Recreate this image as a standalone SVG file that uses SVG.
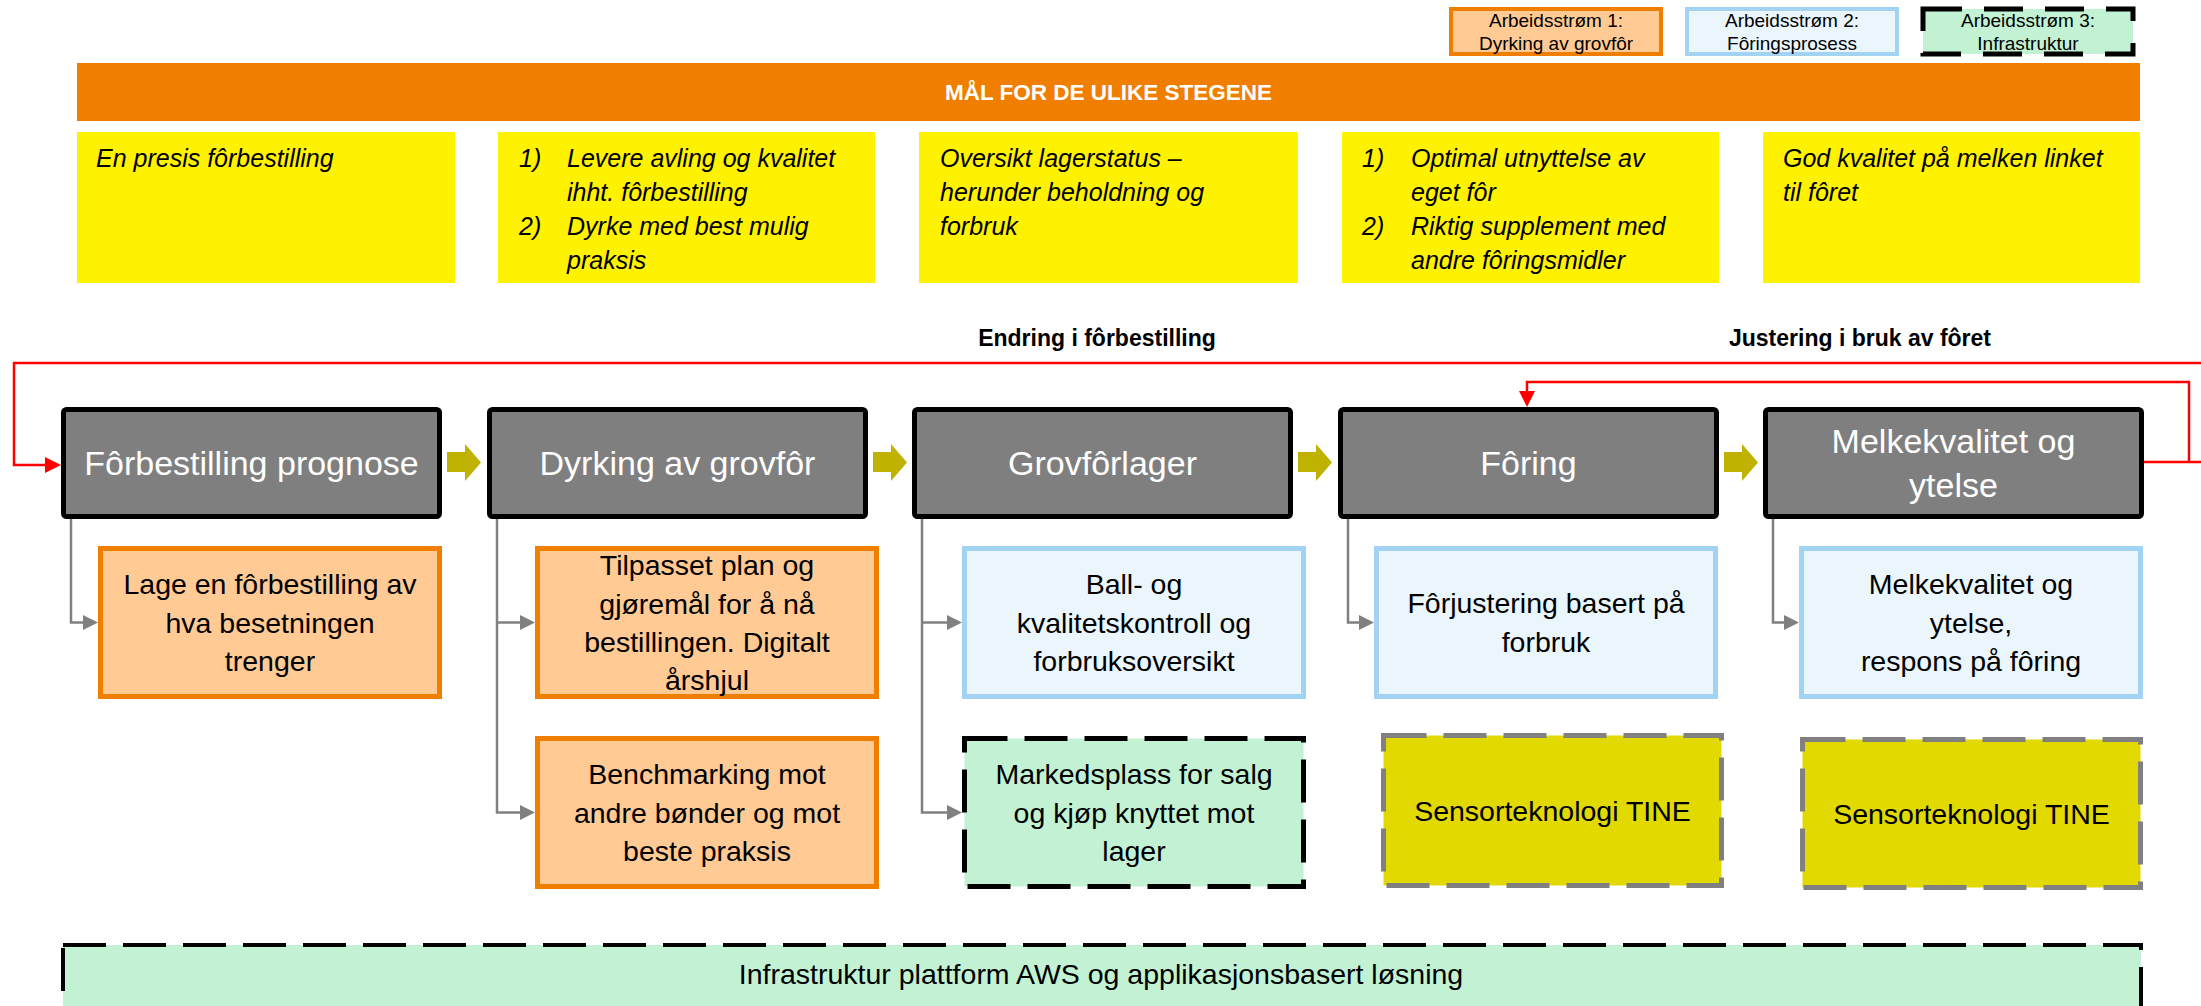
<svg xmlns="http://www.w3.org/2000/svg" width="2201" height="1006" viewBox="0 0 2201 1006" font-family="'Liberation Sans', Arial, sans-serif">
<style>
.g{fill:#7F7F7F;stroke:#000;stroke-width:5}
.gt{fill:#fff;font-size:34px;text-anchor:middle}
.o{fill:#FFCA94;stroke:#F07F00;stroke-width:5}
.b{fill:#EAF5FC;stroke:#A3D3F2;stroke-width:5}
.gr{fill:#C2F2D3;stroke:#000;stroke-width:5;stroke-dasharray:43 17}
.ol{fill:#E2D900;stroke:#808080;stroke-width:5;stroke-dasharray:43 17}
.y{fill:#FFF200}
.st{font-size:28.5px;fill:#000;text-anchor:middle}
.yt{font-size:25px;font-style:italic;fill:#000}
.lg{font-size:19px;fill:#000;text-anchor:middle}
.lbl{font-size:23px;font-weight:bold;fill:#000;text-anchor:middle}
.conn{fill:none;stroke:#808080;stroke-width:2.5}
.red{fill:none;stroke:#FF0000;stroke-width:2.5}
.blk{fill:#BFB200}
</style>
<defs>
<marker id="ag" markerUnits="userSpaceOnUse" markerWidth="15" markerHeight="15" refX="5" refY="7.5" orient="auto">
<path d="M0,0 L15,7.5 L0,15 z" fill="#808080"/>
</marker>
<marker id="ar" markerUnits="userSpaceOnUse" markerWidth="16" markerHeight="16" refX="6" refY="8" orient="auto">
<path d="M0,0 L16,8 L0,16 z" fill="#FF0000"/>
</marker>
<path id="blkarrow" d="M0,452 H18 V444 L34,462.5 L18,481 V472 H0 z"/>
</defs>

<g id="legend">
<g id="legend-1"><rect x="1451" y="9" width="210" height="45" class="o" style="stroke-width:4"/><text class="lg" x="1556" y="27">Arbeidsstrøm 1:</text><text class="lg" x="1556" y="50">Dyrking av grovfôr</text></g>
<g id="legend-2"><rect x="1687" y="9" width="210" height="45" class="b" style="stroke-width:4"/><text class="lg" x="1792" y="27">Arbeidsstrøm 2:</text><text class="lg" x="1792" y="50">Fôringsprosess</text></g>
<g id="legend-3"><rect x="1923" y="9" width="210" height="45" class="gr" style="stroke-dasharray:39 22"/><text class="lg" x="2028" y="27">Arbeidsstrøm 3:</text><text class="lg" x="2028" y="50">Infrastruktur</text></g>
</g>

<g id="header">
<rect x="77" y="63" width="2063" height="58" fill="#F07F00"/>
<text x="1108.5" y="100" font-size="22.5" font-weight="bold" fill="#fff" text-anchor="middle">MÅL FOR DE ULIKE STEGENE</text>
</g>

<g id="goal-1"><rect class="y" x="77" y="132" width="378" height="151"/>
<text class="yt" x="96" y="167">En presis fôrbestilling</text></g>
<g id="goal-2"><rect class="y" x="498" y="132" width="377" height="151"/>
<text class="yt"><tspan x="519" y="167">1)</tspan><tspan x="567" y="167">Levere avling og kvalitet</tspan><tspan x="567" y="201">ihht. fôrbestilling</tspan><tspan x="519" y="235">2)</tspan><tspan x="567" y="235">Dyrke med best mulig</tspan><tspan x="567" y="269">praksis</tspan></text></g>
<g id="goal-3"><rect class="y" x="919" y="132" width="379" height="151"/>
<text class="yt"><tspan x="940" y="167">Oversikt lagerstatus –</tspan><tspan x="940" y="201">herunder beholdning og</tspan><tspan x="940" y="235">forbruk</tspan></text></g>
<g id="goal-4"><rect class="y" x="1342" y="132" width="377" height="151"/>
<text class="yt"><tspan x="1362" y="167">1)</tspan><tspan x="1411" y="167">Optimal utnyttelse av</tspan><tspan x="1411" y="201">eget fôr</tspan><tspan x="1362" y="235">2)</tspan><tspan x="1411" y="235">Riktig supplement med</tspan><tspan x="1411" y="269">andre fôringsmidler</tspan></text></g>
<g id="goal-5"><rect class="y" x="1763" y="132" width="377" height="151"/>
<text class="yt"><tspan x="1783" y="167">God kvalitet på melken linket</tspan><tspan x="1783" y="201">til fôret</tspan></text></g>

<g id="connectors">
<path class="red" d="M2143,462 H2215 V363 H14 V465 H51" marker-end="url(#ar)"/>
<path class="red" d="M2189,462 V382 H1527 V397" marker-end="url(#ar)"/>
<text class="lbl" x="1097" y="346">Endring i fôrbestilling</text>
<text class="lbl" x="1860" y="346">Justering i bruk av fôret</text>
<use href="#blkarrow" class="blk" x="447"/>
<use href="#blkarrow" class="blk" x="873"/>
<use href="#blkarrow" class="blk" x="1298"/>
<use href="#blkarrow" class="blk" x="1724"/>
<path class="conn" d="M71,519 V622.5 H88" marker-end="url(#ag)"/>
<path class="conn" d="M497,519 V812.5 H525" marker-end="url(#ag)"/>
<path class="conn" d="M497,622.5 H525" marker-end="url(#ag)"/>
<path class="conn" d="M922,519 V812.5 H952" marker-end="url(#ag)"/>
<path class="conn" d="M922,622.5 H952" marker-end="url(#ag)"/>
<path class="conn" d="M1348,519 V622.5 H1364" marker-end="url(#ag)"/>
<path class="conn" d="M1773,519 V622.5 H1789" marker-end="url(#ag)"/>
</g>

<g id="step-1"><rect class="g" x="63.5" y="409.5" width="376" height="107" rx="3"/><text class="gt" x="251.5" y="475">Fôrbestilling prognose</text></g>
<g id="step-2"><rect class="g" x="489.5" y="409.5" width="376" height="107" rx="3"/><text class="gt" x="677.5" y="475">Dyrking av grovfôr</text></g>
<g id="step-3"><rect class="g" x="914.5" y="409.5" width="376" height="107" rx="3"/><text class="gt" x="1102.5" y="475">Grovfôrlager</text></g>
<g id="step-4"><rect class="g" x="1340.5" y="409.5" width="376" height="107" rx="3"/><text class="gt" x="1528.5" y="475">Fôring</text></g>
<g id="step-5"><rect class="g" x="1765.5" y="409.5" width="376" height="107" rx="3"/><text class="gt"><tspan x="1953.5" y="453">Melkekvalitet og</tspan><tspan x="1953.5" y="497">ytelse</tspan></text></g>

<g id="sub-1a"><rect class="o" x="100.5" y="548.5" width="339" height="148"/>
<text class="st"><tspan x="270" y="594">Lage en fôrbestilling av</tspan><tspan x="270" y="632.5">hva besetningen</tspan><tspan x="270" y="671">trenger</tspan></text></g>
<g id="sub-2a"><rect class="o" x="537.5" y="548.5" width="339" height="148"/>
<text class="st"><tspan x="707" y="575">Tilpasset plan og</tspan><tspan x="707" y="613.5">gjøremål for å nå</tspan><tspan x="707" y="652">bestillingen. Digitalt</tspan><tspan x="707" y="690">årshjul</tspan></text></g>
<g id="sub-2b"><rect class="o" x="537.5" y="738.5" width="339" height="148"/>
<text class="st"><tspan x="707" y="784">Benchmarking mot</tspan><tspan x="707" y="822.5">andre bønder og mot</tspan><tspan x="707" y="861">beste praksis</tspan></text></g>
<g id="sub-3a"><rect class="b" x="964.5" y="548.5" width="339" height="148"/>
<text class="st"><tspan x="1134" y="594">Ball- og</tspan><tspan x="1134" y="632.5">kvalitetskontroll og</tspan><tspan x="1134" y="671">forbruksoversikt</tspan></text></g>
<g id="sub-3b"><rect class="gr" x="964.5" y="738.5" width="339" height="148"/>
<text class="st"><tspan x="1134" y="784">Markedsplass for salg</tspan><tspan x="1134" y="822.5">og kjøp knyttet mot</tspan><tspan x="1134" y="861">lager</tspan></text></g>
<g id="sub-4a"><rect class="b" x="1376.5" y="548.5" width="339" height="148"/>
<text class="st"><tspan x="1546" y="613">Fôrjustering basert på</tspan><tspan x="1546" y="651.5">forbruk</tspan></text></g>
<g id="sub-4b"><rect class="ol" x="1383.5" y="735.5" width="338" height="150"/>
<text class="st" x="1552.5" y="820.5">Sensorteknologi TINE</text></g>
<g id="sub-5a"><rect class="b" x="1801.5" y="548.5" width="339" height="148"/>
<text class="st"><tspan x="1971" y="594">Melkekvalitet og</tspan><tspan x="1971" y="632.5">ytelse,</tspan><tspan x="1971" y="671">respons på fôring</tspan></text></g>
<g id="sub-5b"><rect class="ol" x="1802.5" y="739.5" width="338" height="148"/>
<text class="st" x="1971.5" y="823.5">Sensorteknologi TINE</text></g>

<g id="infra"><rect x="63" y="945" width="2078" height="75" fill="#C2F2D3" stroke="#000" stroke-width="4" stroke-dasharray="43 17"/>
<text class="st" x="1101" y="984">Infrastruktur plattform AWS og applikasjonsbasert løsning</text></g>
</svg>
